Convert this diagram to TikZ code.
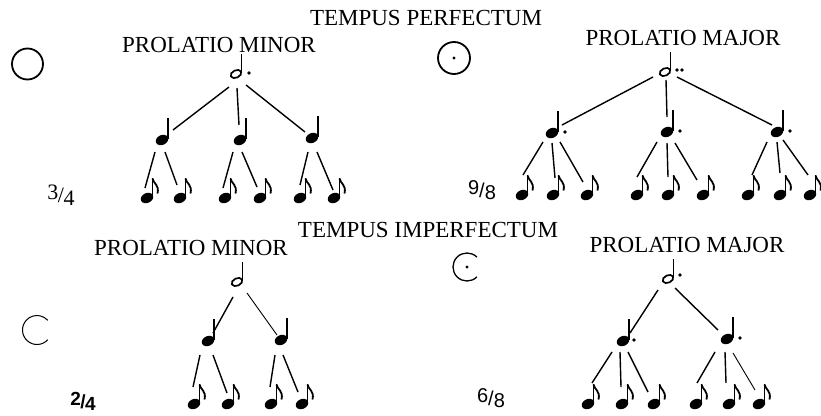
\documentclass[tikz,border=0pt]{standalone}
\usepackage{fontspec}
\setmainfont{Liberation Serif}
\newfontfamily\sansf{Liberation Sans}
\usetikzlibrary{calc}
\tikzset{
  conn/.style={line width=1.4pt},
  thinconn/.style={line width=0.9pt},
  lab/.style={font=\fontsize{23}{23}\selectfont, anchor=base, inner sep=0pt},
  fracl/.style={inner sep=0pt, anchor=center},
  qnote/.pic={
    \fill[rotate=25] (0,0) ellipse (6.5 and 4.9);
    \draw[line width=2pt] (5.5,-1) -- (5.5,-22);
  },
  enote/.pic={
    \fill[rotate=25] (0,0) ellipse (6.5 and 4.9);
    \draw[line width=1.9pt] (5.5,-1) -- (5.5,-20);
    \draw[line width=1.8pt] (5.5,-19.5) .. controls (6.5,-14) and (12.5,-13.5) .. (10.5,-4.5);
  },
  hnote/.pic={
    \draw[line width=1.7pt,rotate=25] (0,0) ellipse (5.6 and 3.7);
    \draw[line width=1.5pt] (5.6,-1) -- (5.6,-20);
  },
  ndot/.pic={\fill (0,0) circle (1.8);}
}
\begin{document}
\begin{tikzpicture}[x=1pt,y=-1pt]
\fill[white] (0,0) rectangle (821,415);
\useasboundingbox (0,0) rectangle (821,415);

% ---------------- titles ----------------
\node[lab] (tp) at (426,25) {TEMPUS PERFECTUM};
\node[lab] (pmin1) at (219,52) {PROLATIO MINOR};
\node[lab] (pmaj1) at (683,45) {PROLATIO MAJOR};
\node[lab] (tip) at (428,237) {TEMPUS IMPERFECTUM};
\node[lab] (pmin2) at (191,255) {PROLATIO MINOR};
\node[lab] (pmaj2) at (687,252) {PROLATIO MAJOR};

% ---------------- mensuration signs ----------------
\node[circle, draw, line width=1.8pt, minimum size=31pt, inner sep=0pt] (s1) at (27.5,64) {};
\node[circle, draw, line width=1.8pt, minimum size=32pt, inner sep=0pt] (s2) at (454,58) {};
\fill (s2.center) circle (1.7);
\coordinate (s3) at (37,330);
\draw[line width=1pt] (s3) ++(42:14.5) arc[start angle=42, end angle=318, radius=14.5];
\coordinate (s4) at (467,267);
\draw[line width=1.3pt] (s4) ++(45:14) arc[start angle=45, end angle=315, radius=14];
\fill (s4) circle (1.7);

% ---------------- fractions ----------------
\node[fracl] (f1) at (61,195) {\fontsize{22}{22}\selectfont\raisebox{3pt}{3}\kern-0.5pt/\kern-0.5pt\raisebox{-3pt}{4}};
\node[fracl] (f2) at (482,190) {\sansf\fontsize{20}{20}\selectfont\raisebox{3pt}{9}/\raisebox{-2pt}{8}};
\node[fracl] (f3) at (83,401) {\sansf\bfseries\fontsize{19}{19}\selectfont\raisebox{3pt}{2}\kern-0.5pt/\kern-0.5pt\raisebox{-2pt}{4}};
\node[fracl] (f4) at (491,398) {\sansf\fontsize{20}{20}\selectfont\raisebox{3pt}{6}/\raisebox{-2pt}{8}};

% ================= top left: O, 3/4 =================
\coordinate (h1) at (236,74);
\coordinate (q1) at (162,140); \coordinate (q2) at (240,140); \coordinate (q3) at (312,138);
\coordinate (e1) at (147,198); \coordinate (e2) at (180,198); \coordinate (e3) at (225,198);
\coordinate (e4) at (260,198); \coordinate (e5) at (300,198); \coordinate (e6) at (334,198);
\pic at (h1) {hnote}; \pic at ($(h1)+(13,-1)$) {ndot};
\foreach \n in {q1,q2,q3} {\pic at (\n) {qnote};}
\foreach \n in {e1,e2,e3,e4,e5,e6} {\pic at (\n) {enote};}
\draw[conn] ($(h1)+(-7,13)$) -- ($(q1)+(11,-10)$);
\draw[conn] ($(h1)+(1,14)$) -- ($(q2)+(-1,-15)$);
\draw[conn] ($(h1)+(10,11)$) -- ($(q3)+(-7,-6)$);
\draw[conn] ($(q1)+(-7,12)$) -- ($(e1)+(-2,-10)$);
\draw[conn] ($(q1)+(3,12)$) -- ($(e2)+(-3,-13)$);
\draw[conn] ($(q2)+(-7,12)$) -- ($(e3)+(-2,-10)$);
\draw[conn] ($(q2)+(2,12)$) -- ($(e4)+(-3,-11)$);
\draw[conn] ($(q3)+(-4,14)$) -- ($(e5)+(0,-13)$);
\draw[conn] ($(q3)+(5,14)$) -- ($(e6)+(-1,-8)$);

% ================= top right: circle with dot, 9/8 =================
\coordinate (h2) at (665,72);
\coordinate (q4) at (552,133); \coordinate (q5) at (667,132); \coordinate (q6) at (777,132);
\coordinate (e7) at (522,195); \coordinate (e8) at (553,195); \coordinate (e9) at (587,195);
\coordinate (e10) at (637,195); \coordinate (e11) at (668,195); \coordinate (e12) at (703,195);
\coordinate (e13) at (748,195); \coordinate (e14) at (780,195); \coordinate (e15) at (810,195);
\pic at (h2) {hnote}; \pic at ($(h2)+(12,-2)$) {ndot}; \pic at ($(h2)+(17,-2)$) {ndot};
\foreach \n in {q4,q5,q6} {\pic at (\n) {qnote}; \pic at ($(\n)+(13,-1)$) {ndot};}
\foreach \n in {e7,e8,e9,e10,e11,e12,e13,e14,e15} {\pic at (\n) {enote};}
\draw[conn] ($(h2)+(-12,5)$) -- ($(q4)+(10,-8)$);
\draw[conn] ($(h2)+(1,8)$) -- ($(q5)+(0,-15)$);
\draw[conn] ($(h2)+(12,5)$) -- ($(q6)+(-5,-7)$);
\draw[conn] ($(q4)+(-9,9)$) -- ($(e7)+(1,-20)$);
\draw[conn] ($(q4)+(0,10)$) -- ($(e8)+(2,-17)$);
\draw[conn] ($(q4)+(8,9)$) -- ($(e9)+(-4,-13)$);
\draw[conn] ($(q5)+(-10,10)$) -- ($(e10)+(0,-18)$);
\draw[conn] ($(q5)+(0,11)$) -- ($(e11)+(0,-18)$);
\draw[conn] ($(q5)+(8,11)$) -- ($(e12)+(-6,-15)$);
\draw[conn] ($(q6)+(-10,10)$) -- ($(e13)+(4,-20)$);
\draw[conn] ($(q6)+(0,10)$) -- ($(e14)+(0,-22)$);
\draw[conn] ($(q6)+(6,8)$) -- ($(e15)+(-2,-20)$);

% ================= bottom left: C, 2/4 =================
\coordinate (h3) at (237,282);
\coordinate (q7) at (208,341); \coordinate (q8) at (281,340);
\coordinate (e16) at (194,404); \coordinate (e17) at (228,404);
\coordinate (e18) at (271,404); \coordinate (e19) at (302,404);
\pic at (h3) {hnote};
\foreach \n in {q7,q8} {\pic at (\n) {qnote};}
\foreach \n in {e16,e17,e18,e19} {\pic at (\n) {enote};}
\draw[conn] ($(h3)+(-4,15)$) -- ($(q7)+(5,-8)$);
\draw[thinconn] ($(h3)+(10,11)$) -- ($(q8)+(-4,-5)$);
\draw[conn] ($(q7)+(-8,14)$) -- ($(e16)+(-1,-17)$);
\draw[conn] ($(q7)+(5,14)$) -- ($(e17)+(-1,-11)$);
\draw[conn] ($(q8)+(-6,15)$) -- ($(e18)+(-1,-17)$);
\draw[conn] ($(q8)+(2,15)$) -- ($(e19)+(-4,-12)$);

% ================= bottom right: C with dot, 6/8 =================
\coordinate (h4) at (668,279);
\coordinate (q9) at (623,341); \coordinate (q10) at (727,339);
\coordinate (e20) at (588,404); \coordinate (e21) at (622,404); \coordinate (e22) at (654,404);
\coordinate (e23) at (696,404); \coordinate (e24) at (729,404); \coordinate (e25) at (759,404);
\pic at (h4) {hnote}; \pic at ($(h4)+(12,-4)$) {ndot};
\pic at (q9) {qnote}; \pic at ($(q9)+(11,-1)$) {ndot};
\pic at (q10) {qnote}; \pic at ($(q10)+(13,-1)$) {ndot};
\foreach \n in {e20,e21,e22,e23,e24,e25} {\pic at (\n) {enote};}
\draw[conn] ($(h4)+(-10,11)$) -- ($(q9)+(7,-8)$);
\draw[conn] ($(h4)+(7,9)$) -- ($(q10)+(-9,-9)$);
\draw[conn] ($(q9)+(-11,11)$) -- ($(e20)+(4,-21)$);
\draw[conn] ($(q9)+(-3,11)$) -- ($(e21)+(-1,-17)$);
\draw[conn] ($(q9)+(5,11)$) -- ($(e22)+(-6,-12)$);
\draw[conn] ($(q10)+(-12,13)$) -- ($(e23)+(1,-21)$);
\draw[conn] ($(q10)+(-2,13)$) -- ($(e24)+(-3,-21)$);
\draw[thinconn] ($(q10)+(6,14)$) -- ($(e25)+(-4,-14)$);
\end{tikzpicture}
\end{document}
